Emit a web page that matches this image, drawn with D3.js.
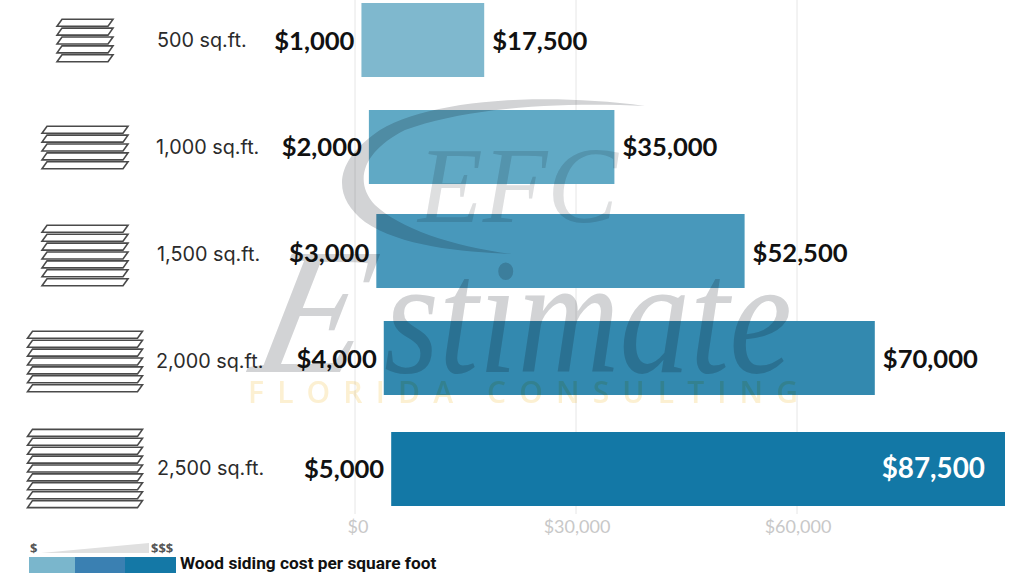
<!DOCTYPE html>
<html><head><meta charset="utf-8">
<script src="https://cdnjs.cloudflare.com/ajax/libs/d3/7.8.5/d3.min.js"></script>
<style>html,body{margin:0;background:#fff}svg{display:block}</style></head>
<body><svg id="c" width="1024" height="576"></svg>
<script>
const categories=["500 sq.ft.","1,000 sq.ft.","1,500 sq.ft.","2,000 sq.ft.","2,500 sq.ft."];
const lowCost=[1000,2000,3000,4000,5000];
const highCost=[17500,35000,52500,70000,87500];
const plankCounts=[5,5,7,7,9];
const iconWidths=[56,86,86,115,115];
const barColors=["#7fb8ce","#60a9c5","#4898bb","#3389af","#1378a6"];
const axisTicks=[0,30000,60000];
const legendColors=["#7ab6cc","#3a80b2","#1478a6"];

const svg=d3.select("#c");
const x=d3.scaleLinear().domain([0,87500]).range([354,1005]);
const axisX=d3.scaleLinear().domain([0,60000]).range([355,797]);
const y=d3.scaleOrdinal().domain(categories).range([3,110,214,321,432]);
const rowY=d3.scaleOrdinal().domain(categories).range([40.5,147.5,254.5,361.5,468.5]);
const valueY=d3.scaleOrdinal().domain(categories).range([40.5,146.5,252.5,359,468.5]);
const barH=74;
const money=d3.format("$,");
const LATO="Lato, sans-serif", LAB="Inter, 'Noto Sans', sans-serif";

// grid
svg.append("g").selectAll("line").data(axisTicks).join("line")
 .attr("x1",d=>axisX(d)).attr("x2",d=>axisX(d)).attr("y1",0).attr("y2",514)
 .attr("stroke","#e6e6e6").attr("stroke-width",1);
svg.append("g").selectAll("text").data(axisTicks).join("text")
 .attr("x",d=>axisX(d)+(d===0?3:1)).attr("y",533).attr("text-anchor","middle")
 .attr("font-family",LATO).attr("font-size",18).attr("fill","#c8c8c8").text(money);

// bars
svg.append("g").selectAll("rect").data(categories).join("rect")
 .attr("x",(d,i)=>x(lowCost[i])).attr("y",d=>y(d))
 .attr("width",(d,i)=>x(highCost[i])-x(lowCost[i])).attr("height",barH)
 .attr("fill",(d,i)=>barColors[i]);

// low labels
svg.append("g").selectAll("text").data(categories).join("text")
 .attr("x",(d,i)=>x(lowCost[i])-7).attr("y",d=>valueY(d)+9)
 .attr("text-anchor","end").attr("font-family",LATO).attr("font-weight",700)
 .attr("font-size",25.6).attr("fill","#111").text((d,i)=>money(lowCost[i]));
// high labels
svg.append("g").selectAll("text").data(categories).join("text")
 .attr("x",(d,i)=>i===4?x(highCost[i])-20:x(highCost[i])+8).attr("y",d=>valueY(d)+9)
 .attr("text-anchor",(d,i)=>i===4?"end":"start").attr("font-family",LATO).attr("font-weight",700)
 .attr("font-size",(d,i)=>i===4?27.8:25.6).attr("fill",(d,i)=>i===4?"#fff":"#111").text((d,i)=>money(highCost[i]));

// category labels
svg.append("g").selectAll("text").data(categories).join("text")
 .attr("x",(d,i)=>[157,156,157,156,157][i]).attr("y",d=>rowY(d)+6.5)
 .attr("font-family",LAB).attr("font-size",19.8).attr("fill","#2b2b2b").text(d=>d);

// plank icons
const iconCx=85, plankStep=8.9, plankH=7, skew=5;
const iconG=svg.append("g").selectAll("g").data(categories).join("g")
 .attr("transform",(d,i)=>{
   const hh=(plankCounts[i]-1)*plankStep+plankH;
   return `translate(${iconCx},${rowY(d)-hh/2+(i===2?1:0)})`;});
iconG.each(function(d,i){
  const w=iconWidths[i];
  d3.select(this).selectAll("path").data(d3.range(plankCounts[i])).join("path")
   .attr("d",k=>{const t=k*plankStep;
     return `M${-w/2+skew},${t}L${w/2},${t}L${w/2-skew},${t+plankH}L${-w/2},${t+plankH}Z`;})
   .attr("fill","#fff").attr("stroke","#4a4a4a").attr("stroke-width",1.6);
});

// legend
const lx=d3.scaleOrdinal().domain([0,1,2]).range([29,75,125]);
const lw=[46,50,51];
svg.append("g").selectAll("rect").data(legendColors).join("rect")
 .attr("x",(d,i)=>lx(i)).attr("y",557).attr("width",(d,i)=>lw[i]).attr("height",16).attr("fill",d=>d);
svg.append("path").attr("d","M41,553L149,553L149,543Z").attr("fill","#e0e0e0");
svg.append("text").attr("x",30).attr("y",553).attr("font-family","'Open Sans',sans-serif").attr("font-weight",700)
 .attr("font-size",13).attr("fill","#555").text("$");
svg.append("text").attr("x",151).attr("y",553).attr("font-family","'Open Sans',sans-serif").attr("font-weight",700)
 .attr("font-size",13).attr("fill","#555").text("$$$");
svg.append("text").attr("x",180).attr("y",569).attr("font-family","Roboto, sans-serif").attr("font-weight",700)
 .attr("font-size",17.3).attr("fill","#111").text("Wood siding cost per square foot");

// watermark
const wm=svg.append("g").style("mix-blend-mode","multiply");
wm.append("path").attr("d","M645,106C540,92 430,100 380,130C335,160 330,195 365,222C400,246 460,252 512,254C450,246 400,228 375,205C352,180 365,150 405,130C470,106 570,102 645,106Z")
 .attr("fill","#d2d3d5");
const serif="'Liberation Serif','DejaVu Serif',serif";
wm.append("text").attr("x",418).attr("y",222).attr("font-family",serif).attr("font-style","italic")
 .attr("font-size",108).attr("textLength",200).attr("lengthAdjust","spacingAndGlyphs").attr("fill","#d6d7d9").attr("opacity",.8).text("EFC");
wm.append("text").attr("transform","translate(248,372) skewX(-12)").attr("font-family",serif).attr("font-style","italic")
 .attr("font-size",180).attr("fill","#d2d3d5").text("E");
wm.append("text").attr("x",384).attr("y",372).attr("font-family",serif).attr("font-style","italic")
 .attr("font-size",165).attr("textLength",408).attr("lengthAdjust","spacingAndGlyphs").attr("fill","#d2d3d5").text("stimate");
wm.append("text").attr("x",248).attr("y",403).attr("font-family","'Open Sans',sans-serif").attr("font-weight",600)
 .attr("font-size",30).attr("textLength",550).attr("fill","#fcf0d2").text("FLORIDA CONSULTING");
</script></body></html>
